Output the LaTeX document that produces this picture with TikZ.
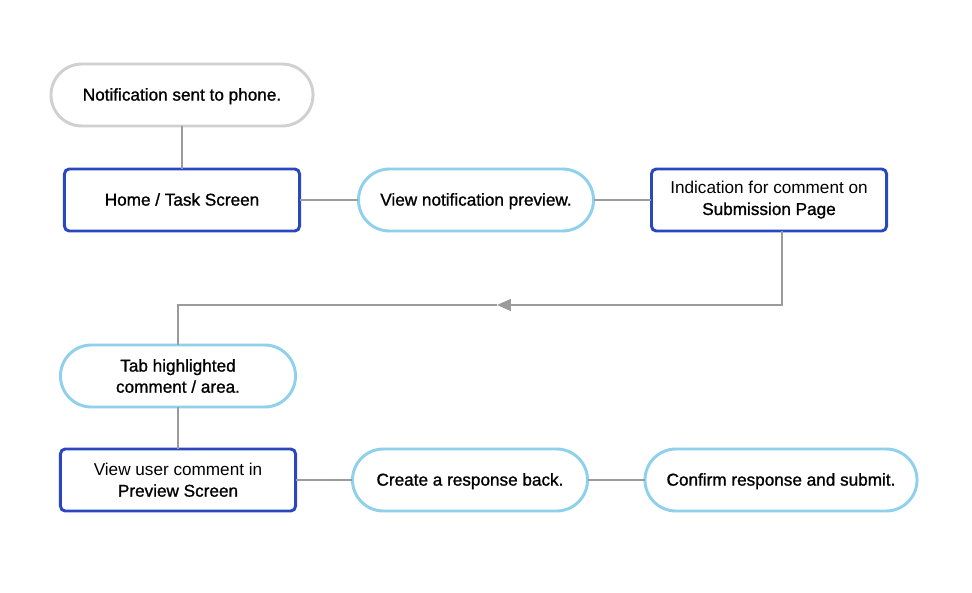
\documentclass[tikz,border=0pt]{standalone}
\usepackage{fontspec}
\setmainfont{Liberation Sans}
\newfontfamily\medfont{Liberation Sans}[FakeBold=1.1]
\usetikzlibrary{arrows.meta}
\definecolor{boxblue}{HTML}{2A48BE}
\definecolor{pillblue}{HTML}{8FD0EC}
\definecolor{pillgray}{HTML}{D0D0D0}
\definecolor{linegray}{HTML}{9B9B9B}
\begin{document}
\begin{tikzpicture}[x=0.025cm,y=-0.025cm,inner sep=0pt,outer sep=0pt,
font=\fontsize{12.2}{15}\selectfont\medfont,
oneline/.style={text height=0.8em,text depth=0pt},
screenbox/.style={draw=boxblue,rectangle,rounded corners=0.12cm,line width=2.1pt,minimum width=5.875cm,minimum height=1.55cm,align=center},
actpill/.style={draw=pillblue,rectangle,rounded corners=0.775cm,line width=2.1pt,minimum width=5.875cm,minimum height=1.55cm,align=center},
conn/.style={draw=linegray,line width=1.3pt}]
\useasboundingbox (0,0) rectangle (972,592);

\draw (182,95) node[actpill,oneline,draw=pillgray,minimum width=6.55cm] (notif) {Notification sent to phone.};
\draw (182,200) node[screenbox,oneline] (home) {Home / Task Screen};
\draw (476,200) node[actpill,oneline] (view) {View notification preview.};
\draw (769,200) node[screenbox] (ind) {{\normalfont Indication for comment on}\\Submission Page};
\draw (178,376) node[actpill] (tab) {Tab highlighted\\comment / area.};
\draw (178,480) node[screenbox] (prev) {{\normalfont View user comment in}\\Preview Screen};
\draw (470,480) node[actpill,oneline] (resp) {Create a response back.};
\draw (781,480) node[actpill,oneline,minimum width=6.8cm] (conf) {Confirm response and submit.};

\coordinate (turn) at (782,305);
\coordinate (mid) at (497,305);
\draw[conn] (notif.south) -- (home.north);
\draw[conn] (home.east) -- (view.west);
\draw[conn] (view.east) -- (ind.west);
\draw[conn,-{Triangle[length=14pt*0.7,width=12pt*0.7]}] (ind.south -| turn) -- (turn) -- (mid);
\draw[conn] (mid) -| (tab.north);
\draw[conn] (tab.south) -- (prev.north);
\draw[conn] (prev.east) -- (resp.west);
\draw[conn] (resp.east) -- (conf.west);
\end{tikzpicture}
\end{document}
